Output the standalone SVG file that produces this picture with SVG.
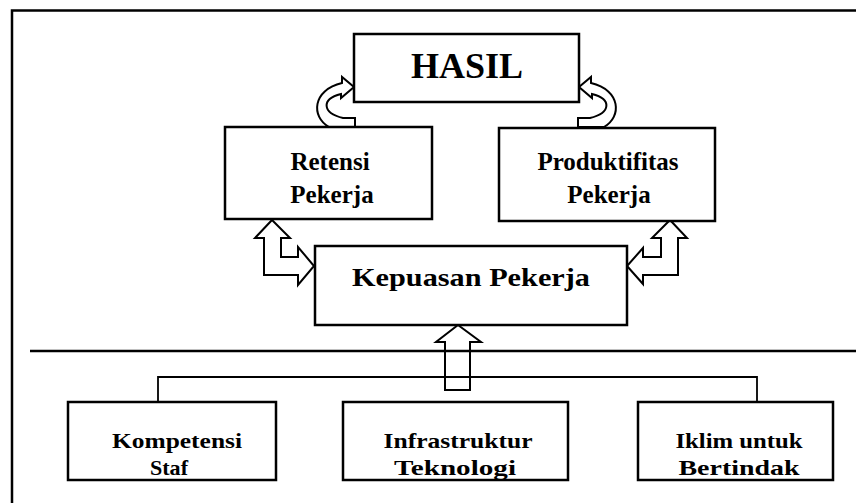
<svg xmlns="http://www.w3.org/2000/svg" width="856" height="503" viewBox="0 0 856 503">
<style>
.box{fill:#fff;stroke:#000;stroke-width:2.5}
.t{font-family:"Liberation Serif","Times New Roman",serif;font-weight:bold;fill:#000;text-anchor:middle}
.s{font-size:22px}
.arr{fill:#fff;stroke:#000;stroke-width:2;stroke-linejoin:miter}
.ln{fill:none;stroke:#000}
</style>
<rect width="856" height="503" fill="#fff"/>
<g id="frame">
<path class="ln" d="M12,503 V10.5 H856" stroke-width="2.5"/>
<line class="ln" x1="30" y1="351" x2="856" y2="351" stroke-width="2.5"/>
</g>
<g id="connectors">
<path class="ln" d="M158,402 V377 H757 V402" stroke-width="1.8"/>
<path class="arr" style="fill:none" d="M458,325 L481,342 L470,342 L470,390 L445,390 L445,342 L436,342 Z"/>
<path class="arr" d="M272,220 L290,238 L281,238 L281,257 L298,257 L298,247 L314,266 L298,285 L298,275 L264,275 L264,238 L255,238 Z"/>
<path class="arr" d="M670,220 L687,238 L678,238 L678,275 L643,275 L643,284 L627,266 L643,248 L643,257 L661,257 L661,238 L652,238 Z"/>
<path class="arr" d="M578,127 L604,127 C622,117 621,90 591,83 L591,77 L579,87 L592,98 L592,94 C612,99 611,113 590,118 L578,118 Z"/>
<path class="arr" d="M355,127 L329,127 C311,117 312,90 342,83 L342,77 L354,87 L341,98 L341,94 C321,99 322,113 343,118 L355,118 Z"/>
</g>
<g id="hasil">
<rect class="box" x="354" y="34" width="225" height="68"/>
<text class="t" x="467" y="78" font-size="36" textLength="112" lengthAdjust="spacingAndGlyphs">HASIL</text>
</g>
<g id="retensi">
<rect class="box" x="225" y="127" width="207" height="92"/>
<text class="t" x="330" y="170" font-size="25">Retensi</text>
<text class="t" x="332" y="203" font-size="25">Pekerja</text>
</g>
<g id="produktifitas">
<rect class="box" x="499" y="128" width="216" height="93"/>
<text class="t" x="608" y="170" font-size="25">Produktifitas</text>
<text class="t" x="609" y="203" font-size="25">Pekerja</text>
</g>
<g id="kepuasan">
<rect class="box" x="315" y="246" width="312" height="79"/>
<text class="t" x="471" y="286" font-size="26" textLength="238" lengthAdjust="spacingAndGlyphs">Kepuasan Pekerja</text>
</g>
<g id="kompetensi">
<rect class="box" x="68" y="402" width="208" height="78"/>
<text class="t s" x="177" y="448" textLength="130" lengthAdjust="spacingAndGlyphs">Kompetensi</text>
<text class="t s" x="169" y="475" textLength="38" lengthAdjust="spacingAndGlyphs">Staf</text>
</g>
<g id="infrastruktur">
<rect class="box" x="343" y="402" width="225" height="78"/>
<text class="t s" x="458" y="448" textLength="149" lengthAdjust="spacingAndGlyphs">Infrastruktur</text>
<text class="t s" x="455" y="475" textLength="122" lengthAdjust="spacingAndGlyphs">Teknologi</text>
</g>
<g id="iklim">
<rect class="box" x="638" y="402" width="195" height="78"/>
<text class="t s" x="739" y="448" textLength="127" lengthAdjust="spacingAndGlyphs">Iklim untuk</text>
<text class="t s" x="739" y="475" textLength="121" lengthAdjust="spacingAndGlyphs">Bertindak</text>
</g>
</svg>
